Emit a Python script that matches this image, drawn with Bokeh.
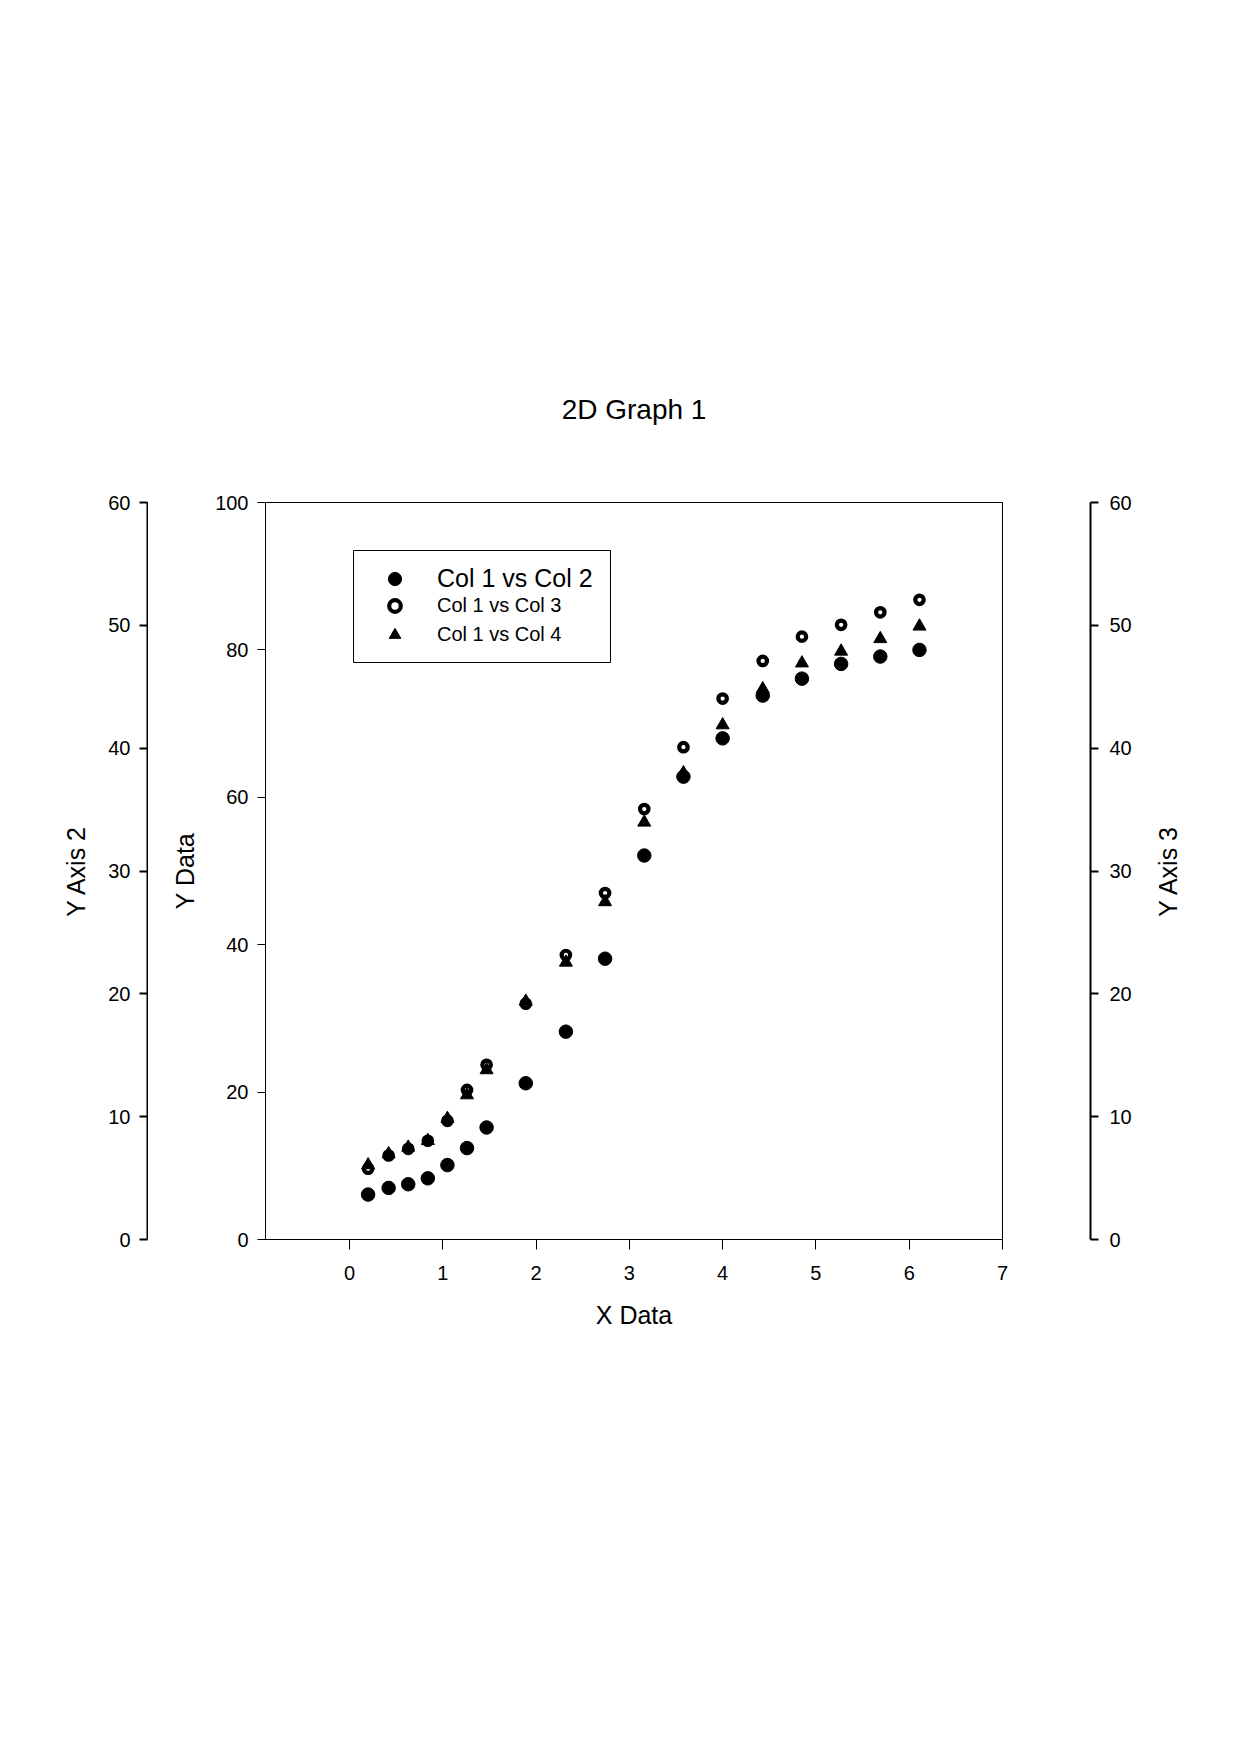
import math
from bokeh.plotting import figure
from bokeh.models import (Range1d, LinearAxis, Legend, LegendItem, FixedTicker, Label,
                          BoxAnnotation)
from bokeh.layouts import row
from bokeh.embed import file_html
from bokeh.resources import INLINE

# ---------------- data ----------------
x_data = [0.20, 0.42, 0.63, 0.84, 1.05, 1.26, 1.47, 1.89, 2.32, 2.74,
          3.16, 3.58, 4.00, 4.43, 4.85, 5.27, 5.69, 6.11]
col2 = [6.1, 7.0, 7.5, 8.3, 10.1, 12.4, 15.2, 21.2, 28.2, 38.1,
        52.1, 62.8, 68.0, 73.8, 76.1, 78.1, 79.1, 80.0]
col3 = [9.6, 11.4, 12.3, 13.4, 16.1, 20.3, 23.7, 32.0, 38.6, 47.0,
        58.4, 66.8, 73.4, 78.5, 81.8, 83.4, 85.1, 86.8]
col4 = [10.1, 11.6, 12.5, 13.4, 16.4, 19.6, 23.0, 32.3, 37.6, 45.8,
        56.6, 63.3, 69.8, 74.7, 78.2, 79.8, 81.5, 83.2]
series_labels = ["Col 1 vs Col 2", "Col 1 vs Col 3", "Col 1 vs Col 4"]
x_ticks = [0, 1, 2, 3, 4, 5, 6, 7]
y_ticks = [0, 20, 40, 60, 80, 100]
y_side_ticks = [0, 10, 20, 30, 40, 50, 60]
title_text = "2D Graph 1"
x_label = "X Data"
y_label = "Y Data"
y2_label = "Y Axis 2"
y3_label = "Y Axis 3"

FONT = "Liberation Sans"
TICK_FS = "20px"
LABEL_FS = "25px"
H = 1745
TOP = 502
FRAME = 737
BOTTOM = H - TOP - FRAME


def style_axis(ax, tick_out, standoff, label_standoff, lw=1):
    ax.major_tick_out = tick_out
    ax.major_tick_in = 0
    ax.minor_tick_out = 0
    ax.minor_tick_in = 0
    ax.axis_line_color = "black"
    ax.axis_line_width = lw
    ax.major_tick_line_color = "black"
    ax.major_tick_line_width = lw
    ax.major_label_text_font = FONT
    ax.major_label_text_font_size = TICK_FS
    ax.major_label_text_color = "black"
    ax.major_label_standoff = standoff
    ax.axis_label_text_font = FONT
    ax.axis_label_text_font_size = LABEL_FS
    ax.axis_label_text_font_style = "normal"
    ax.axis_label_text_color = "black"
    ax.axis_label_standoff = label_standoff


def side_figure(width, border_left, border_right):
    f = figure(width=width, height=H, x_range=Range1d(0, 1), y_range=Range1d(0, 60),
               output_backend="svg", toolbar_location=None,
               x_axis_location=None, y_axis_location=None,
               min_border_left=border_left, min_border_right=border_right,
               min_border_top=TOP, min_border_bottom=BOTTOM,
               background_fill_color="white", border_fill_color="white")
    f.grid.visible = False
    f.outline_line_color = None
    return f


# ---------------- main plot ----------------
p = figure(width=862, height=H, x_range=Range1d(-0.9, 7), y_range=Range1d(0, 100),
           output_backend="svg", toolbar_location=None,
           min_border_left=117, min_border_right=8,
           min_border_top=TOP, min_border_bottom=BOTTOM,
           background_fill_color="white", border_fill_color="white")
p.grid.visible = False
p.outline_line_color = "black"
p.outline_line_width = 1

p.title.text = title_text
p.title.text_font = FONT
p.title.text_font_size = "28px"
p.title.text_font_style = "normal"
p.title.text_color = "black"
p.title.align = "center"
p.title.standoff = 156

p.xaxis.ticker = FixedTicker(ticks=x_ticks)
p.yaxis.ticker = FixedTicker(ticks=y_ticks)
p.xaxis.axis_label = x_label
p.yaxis.axis_label = y_label
style_axis(p.xaxis[0], 10, 16, 18)
style_axis(p.yaxis[0], 8, 9, 13)

r2 = p.scatter(x_data, col2, marker="circle", size=13.5, fill_color="black",
               line_color="black", line_width=1)
r3 = p.scatter(x_data, col3, marker="circle", size=8.5, fill_color=None,
               line_color="black", line_width=4.2)
r4 = p.scatter(x_data, col4, marker="triangle", size=13, fill_color="black",
               line_color="black", line_width=1)

# legend frame (screen px, measured from the plot frame's lower-left corner)
p.add_layout(BoxAnnotation(left=88, right=345, bottom=577, top=689,
                           left_units="screen", right_units="screen",
                           bottom_units="screen", top_units="screen",
                           fill_color="white", fill_alpha=1,
                           line_color="black", line_width=1, line_alpha=1))

legend_common = dict(margin=0, padding=0, label_text_font=FONT,
                     label_text_color="black", border_line_color=None,
                     background_fill_alpha=0)
legend_a = Legend(items=[LegendItem(label=series_labels[0], renderers=[r2])],
                  location=(113, 644), label_text_font_size="25px", spacing=0,
                  glyph_width=33, glyph_height=33, label_height=33, label_standoff=26,
                  **legend_common)
legend_b = Legend(items=[LegendItem(label=series_labels[1], renderers=[r3]),
                         LegendItem(label=series_labels[2], renderers=[r4])],
                  location=(115, 590), label_text_font_size="20px", spacing=-6,
                  glyph_width=29, glyph_height=29, label_height=29, label_standoff=28,
                  **legend_common)
p.add_layout(legend_a, "center")
p.add_layout(legend_b, "center")

# ---------------- left extra axis (Y Axis 2) ----------------
pa = side_figure(148, 147, 0)
ax2 = LinearAxis(ticker=FixedTicker(ticks=y_side_ticks), axis_label=y2_label)
style_axis(ax2, 8, 9, 15, lw=2)
pa.add_layout(ax2, "left")

# ---------------- right extra axis (Y Axis 3) ----------------
pc = side_figure(130, 79, 50)
ax3 = LinearAxis(ticker=FixedTicker(ticks=y_side_ticks))
style_axis(ax3, 8, 11, 0, lw=2)
pc.add_layout(ax3, "right")

# axis title of Y Axis 3, reading bottom-to-top, centred on that axis
pd = side_figure(54, 0, 0)
pd.add_layout(Label(x=(pd.x_range.start + pd.x_range.end) / 2,
                    y=(pd.y_range.start + pd.y_range.end) / 2,
                    text=y3_label, angle=math.pi / 2,
                    text_align="center", text_baseline="middle",
                    text_font=FONT, text_font_size=LABEL_FS, text_color="black"))

layout = row(pa, p, pc, pd)
open("out.html", "w").write(file_html(layout, INLINE))
